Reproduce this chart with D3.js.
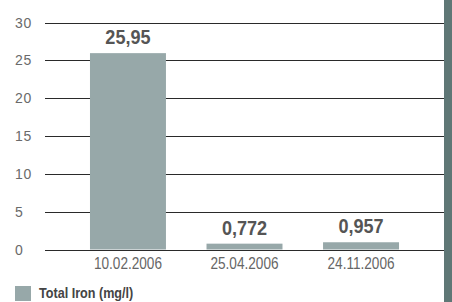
<!DOCTYPE html>
<html>
<head>
<meta charset="utf-8">
<script src="https://cdn.jsdelivr.net/npm/d3@7"></script>
<style>
  body { margin: 0; background: #fff; }
  svg { display: block; font-family: "Liberation Sans", Arial, sans-serif; }
</style>
</head>
<body>
<script>
// data
var dates = ["10.02.2006", "25.04.2006", "24.11.2006"];
var ironValues = [25.95, 0.772, 0.957];
var valueLabels = ["25,95", "0,772", "0,957"];
var yTicks = [0, 5, 10, 15, 20, 25, 30];
var seriesName = "Total Iron (mg/l)";

var width = 452, height = 302;
var barColor = "#97a8a9";

var svg = d3.select("body").append("svg")
    .attr("width", width)
    .attr("height", height);

var x = d3.scaleBand()
    .domain(dates)
    .range([45, 444])
    .paddingInner(0.348)
    .paddingOuter(0.386);

var y = d3.scaleLinear()
    .domain([0, 30])
    .range([249.5, 22.5]);

// squeeze text horizontally, the original uses a condensed face
function condense(sel, factor) {
    sel.each(function () {
        var w = this.getComputedTextLength();
        d3.select(this)
            .attr("textLength", w * factor)
            .attr("lengthAdjust", "spacingAndGlyphs");
    });
}

// right side dark strip
svg.append("rect")
    .attr("x", 444)
    .attr("y", 0)
    .attr("width", 8)
    .attr("height", height)
    .attr("fill", "#5f7776");

// grid lines
svg.append("g").attr("class", "grid")
    .selectAll("line")
    .data(yTicks)
    .enter().append("line")
    .attr("x1", 45)
    .attr("x2", 444)
    .attr("y1", function (d) { return Math.round(y(d)) + 0.5; })
    .attr("y2", function (d) { return Math.round(y(d)) + 0.5; })
    .attr("stroke", "#2a2a2a")
    .attr("stroke-width", 1);

// y labels
svg.append("g").selectAll("text")
    .data(yTicks)
    .enter().append("text")
    .attr("x", 15)
    .attr("y", function (d) { return y(d) + 5; })
    .attr("font-size", 14)
    .attr("letter-spacing", 0.6)
    .attr("fill", "#6a6a6a")
    .text(function (d) { return d; });

// bars
svg.append("g").selectAll("rect")
    .data(ironValues)
    .enter().append("rect")
    .attr("x", function (d, i) { return x(dates[i]); })
    .attr("width", x.bandwidth())
    .attr("y", function (d) { return y(d); })
    .attr("height", function (d) { return y(0) - y(d); })
    .attr("fill", barColor);

// value labels
svg.append("g").selectAll("text")
    .data(ironValues)
    .enter().append("text")
    .attr("x", function (d, i) { return x(dates[i]) + x.bandwidth() / 2; })
    .attr("y", function (d) { return y(d) - 9; })
    .attr("text-anchor", "middle")
    .attr("font-size", 21)
    .attr("font-weight", "bold")
    .attr("fill", "#555")
    .text(function (d, i) { return valueLabels[i]; })
    .call(condense, 0.86);

// x labels
svg.append("g").selectAll("text")
    .data(dates)
    .enter().append("text")
    .attr("x", function (d) { return x(d) + x.bandwidth() / 2; })
    .attr("y", 269)
    .attr("text-anchor", "middle")
    .attr("font-size", 16)
    .attr("fill", "#666")
    .text(function (d) { return d; })
    .call(condense, 0.85);

// legend
svg.append("rect")
    .attr("x", 15)
    .attr("y", 286)
    .attr("width", 16)
    .attr("height", 15)
    .attr("fill", barColor);

svg.append("text")
    .attr("x", 39)
    .attr("y", 298)
    .attr("font-size", 14)
    .attr("font-weight", "bold")
    .attr("fill", "#444")
    .text(seriesName)
    .call(condense, 0.9);
</script>
</body>
</html>
